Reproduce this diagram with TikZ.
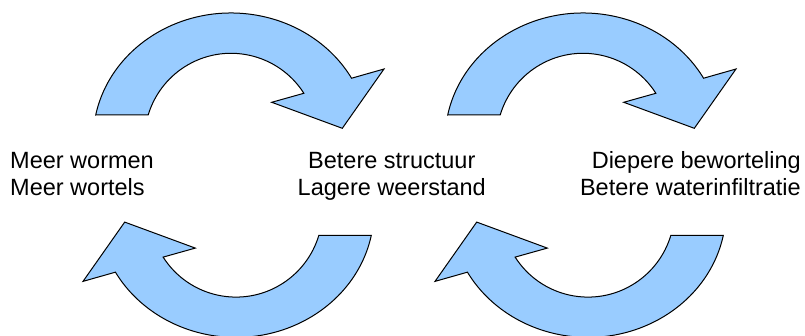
\documentclass[tikz,border=0pt]{standalone}
\usepackage{fontspec}
\setmainfont{Liberation Sans}
\definecolor{arrowblue}{HTML}{99CCFF}
\tikzset{
  cyc/.style={fill=arrowblue, draw=black, line width=1pt, line join=miter},
  lbl/.style={inner sep=0pt, font=\fontsize{23.5}{27}\selectfont}
}
\newcommand\cyclearrowpath{([shift={(231,196)}]168.65:138pt and 127pt)
  arc[start angle=168.65, end angle=29.1, x radius=138pt, y radius=127pt]
  -- (384,267) -- (342.3,207.7) -- (271.7,233.7)
  -- ([shift={(231,196)}]32.6:86.5pt and 86.7pt)
  arc[start angle=32.6, end angle=163.2, x radius=86.5pt, y radius=86.7pt]
  -- cycle}
\begin{document}
\begin{tikzpicture}[x=1pt,y=1pt]
\useasboundingbox (0,0) rectangle (805,336);
\clip (0,0) rectangle (805,336);
% top-left
\draw[cyc] \cyclearrowpath;
% top-right
\begin{scope}[shift={(352,0)}]
\draw[cyc] \cyclearrowpath;
\end{scope}
% bottom-left
\begin{scope}[rotate around={180:(233.5,160.8)}]
\draw[cyc] \cyclearrowpath;
\end{scope}
% bottom-right
\begin{scope}[shift={(352,0)}, rotate around={180:(233.5,160.8)}]
\draw[cyc] \cyclearrowpath;
\end{scope}
\node[lbl, anchor=base west] (w1) at (10,167.7) {Meer wormen};
\node[lbl, anchor=base west] (w2) at (10,140.5) {Meer wortels};
\node[lbl, anchor=base] (s1) at (391.8,167.7) {Betere structuur};
\node[lbl, anchor=base] (s2) at (391.8,140.5) {Lagere weerstand};
\node[lbl, anchor=base east] (d1) at (801,167.7) {Diepere beworteling};
\node[lbl, anchor=base east] (d2) at (801,140.5) {Betere waterinfiltratie};
\end{tikzpicture}
\end{document}
